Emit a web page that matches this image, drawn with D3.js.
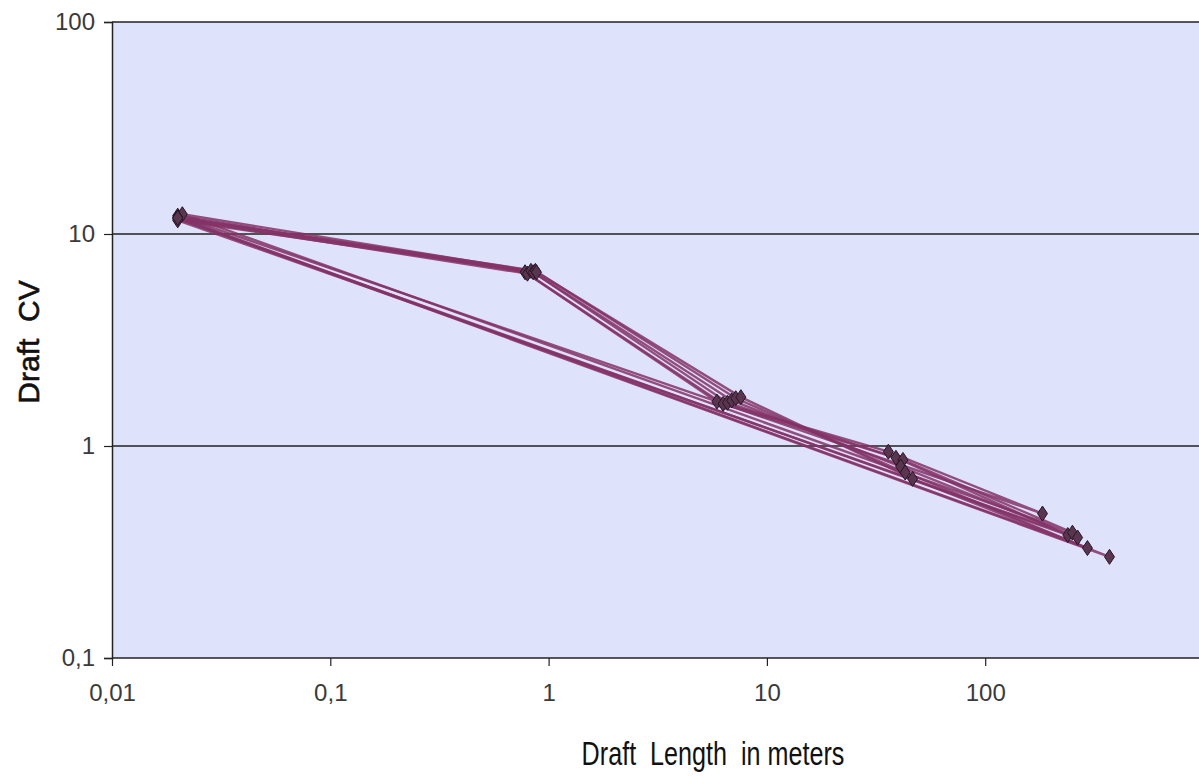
<!DOCTYPE html>
<html>
<head>
<meta charset="utf-8">
<script src="https://cdn.jsdelivr.net/npm/d3@7"></script>
<style>
  body { margin: 0; background: #fff; }
  svg text { font-family: "Liberation Sans", Arial, sans-serif; white-space: pre; }
</style>
</head>
<body>
<svg id="chart" width="1199" height="778"></svg>
<script>
// draft lengths (m) per measuring step, one entry per sample
const lengths = [
  [0.020, 0.78, 5.9, 36.0, 183],
  [0.020, 0.80, 6.3, 39.0, 239],
  [0.021, 0.83, 6.6, 42.0, 251],
  [0.020, 0.85, 6.9, 41.0, 265],
  [0.020, 0.87, 7.2, 43.0, 294],
  [0.020, 0.88, 7.6, 46.5, 371]
];
// draft CV per step, same order
const cvs = [
  [12.2, 6.6, 1.62, 0.94, 0.48],
  [11.8, 6.5, 1.58, 0.88, 0.38],
  [12.4, 6.7, 1.60, 0.86, 0.39],
  [11.6, 6.6, 1.64, 0.80, 0.37],
  [12.0, 6.7, 1.68, 0.75, 0.33],
  [11.9, 6.6, 1.70, 0.70, 0.30]
];
const xTicks = [0.01, 0.1, 1, 10, 100];
const yTicks = [0.1, 1, 10, 100];
const fmt = d => String(d).replace('.', ',');

const svg = d3.select('#chart');
const plotLeft = 112, plotTop = 22, plotBottom = 658, decade = 218.3;

const x = d3.scaleLog().domain([0.01, 1000]).range([plotLeft, plotLeft + 5 * decade]);
const y = d3.scaleLog().domain([0.1, 100]).range([plotBottom, plotTop]);

// plot area
svg.append('rect')
  .attr('x', plotLeft).attr('y', plotTop)
  .attr('width', 1199 - plotLeft).attr('height', plotBottom - plotTop)
  .attr('fill', '#dfe2fb');

// horizontal gridlines
svg.append('g')
  .selectAll('line')
  .data(yTicks.slice(1))
  .enter().append('line')
  .attr('x1', plotLeft).attr('x2', 1199)
  .attr('y1', d => y(d)).attr('y2', d => y(d))
  .attr('stroke', '#222').attr('stroke-width', 1.5);

// axes
const yAxis = svg.append('g')
  .attr('transform', `translate(${plotLeft},0)`)
  .call(d3.axisLeft(y).tickValues(yTicks).tickFormat(fmt).tickSize(8).tickPadding(9));
const xAxis = svg.append('g')
  .attr('transform', `translate(0,${plotBottom})`)
  .call(d3.axisBottom(x).tickValues(xTicks).tickFormat(fmt).tickSize(8).tickPadding(18));

[xAxis, yAxis].forEach(a => {
  a.select('.domain').attr('stroke', '#222').attr('stroke-width', 1.5);
  a.selectAll('.tick line').attr('stroke', '#222').attr('stroke-width', 1.2);
  a.selectAll('.tick text')
    .attr('fill', '#3a3a3a')
    .style('font-size', '24px');
});
xAxis.select('.domain').attr('d', `M${plotLeft},0H1199`);

// series lines (each loop closes back to the first point)
const line = d3.line().x(d => x(d[0])).y(d => y(d[1]));
const series = lengths.map((xs, i) => xs.map((v, j) => [v, cvs[i][j]]));

svg.append('g')
  .selectAll('path')
  .data(series)
  .enter().append('path')
  .attr('d', d => line(d.concat([d[0]])))
  .attr('fill', 'none')
  .attr('stroke', '#843366')
  .attr('stroke-width', 2.4)
  .attr('stroke-opacity', 0.85);

// diamond markers
const diamond = 'M0,-7.5L5,0L0,7.5L-5,0Z';
svg.append('g')
  .selectAll('path')
  .data(series.flat())
  .enter().append('path')
  .attr('d', diamond)
  .attr('transform', d => `translate(${x(d[0])},${y(d[1])})`)
  .attr('fill', '#5a3550')
  .attr('stroke', '#2a1525')
  .attr('stroke-width', 1);

// axis titles
svg.append('text')
  .attr('transform', 'translate(713,765) scale(0.74,1)')
  .attr('text-anchor', 'middle')
  .attr('fill', '#111')
  .style('font-size', '34px')
  .text('Draft  Length  in meters');

svg.append('text')
  .attr('transform', 'translate(39,342) rotate(-90)')
  .attr('text-anchor', 'middle')
  .attr('fill', '#111')
  .attr('stroke', '#111')
  .attr('stroke-width', 0.6)
  .style('font-size', '30px')
  .text('Draft  CV');
</script>
</body>
</html>
